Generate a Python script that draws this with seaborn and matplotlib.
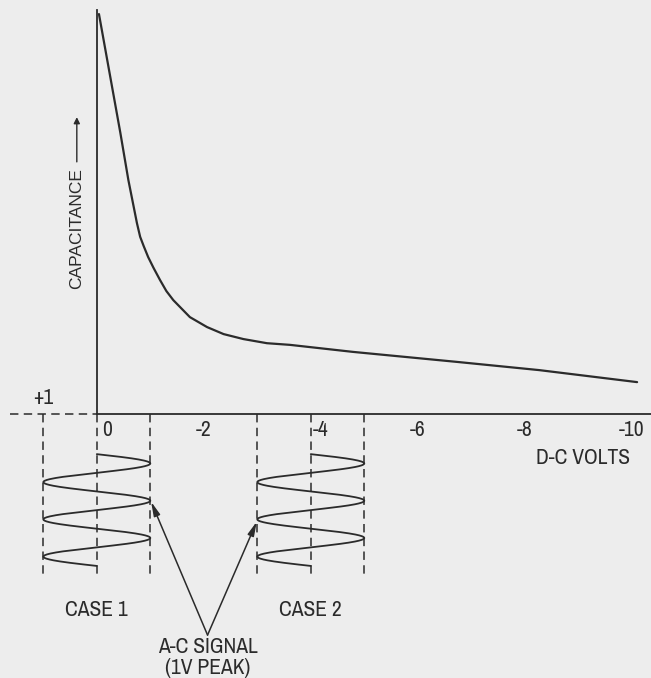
import numpy as np
import pandas as pd
import matplotlib
matplotlib.use("Agg")
import matplotlib.pyplot as plt
import matplotlib.transforms as mtrans
import seaborn as sns

# capacitance vs d-c bias (volts, relative capacitance)
dc_volts = [-0.04, -0.44, -0.59, -0.75, -0.81, -0.875, -0.96, -1.06, -1.18, -1.30,
            -1.43, -1.74, -2.06, -2.37, -2.74, -3.18, -3.61, -4.79, -6.72, -8.27, -10.10]
capacitance = [9.66, 6.79, 5.65, 4.61, 4.28, 4.06, 3.79, 3.53, 3.24, 2.97,
               2.75, 2.34, 2.10, 1.93, 1.81, 1.71, 1.67, 1.50, 1.26, 1.06, 0.77]

tick_values = [1, 0, -1, -2, -3, -4, -5, -6, -7, -8, -9, -10]
tick_labels = ["", "0", "", "-2", "", "-4", "", "-6", "", "-8", "", "-10"]

# a-c signal (1V peak) riding on two bias points
case_names = ["CASE 1", "CASE 2"]
case_bias = [0, -4]
ac_peak = 1.0
ac_cycles = 3

ink = "#2b2b2b"
paper = "#ededed"
dash = (0, (5.5, 3.5))

sns.set_theme(style="white")
plt.rcParams["font.family"] = ["Archivo Narrow", "DejaVu Sans"]
plt.rcParams["font.weight"] = "medium"

fig = plt.figure(figsize=(6.51, 6.78), dpi=100, facecolor=paper)
ax = fig.add_axes([0, 0, 1, 1], facecolor=paper)

# main curve
curve = pd.DataFrame({"volts": dc_volts, "cap": capacitance})
sns.lineplot(data=curve, x="volts", y="cap", sort=False, estimator=None,
             color=ink, lw=1.6, ax=ax)

# a-c signal waves, time running downwards
t_top, t_bot = -0.97, -3.67
s = np.linspace(0, 1, 400)
for name, b in zip(case_names, case_bias):
    wave = pd.DataFrame({"v": b - ac_peak * np.sin(2 * np.pi * ac_cycles * s),
                         "t": t_top + s * (t_bot - t_top)})
    sns.lineplot(data=wave, x="v", y="t", sort=False, estimator=None,
                 color=ink, lw=1.3, ax=ax)
    for v in (b + ac_peak, b, b - ac_peak):
        ax.plot([v, v], [0, -3.96], color=ink, lw=1.1, ls=dash)
    ax.text(b, -4.73, name, ha="center", va="center", fontsize=15.5, color=ink)

# dashed extension of the axis to +1
ax.plot([1.62, 0], [0, 0], color=ink, lw=1.1, ls=dash)
ax.text(1.0, 0.39, "+1", ha="center", va="center", fontsize=15.5, color=ink)

# axes as spines
for side in ("top", "right"):
    ax.spines[side].set_visible(False)
ax.spines["left"].set_position(("data", 0))
ax.spines["left"].set_bounds(0, 9.76)
ax.spines["bottom"].set_position(("data", 0))
ax.spines["bottom"].set_bounds(0, -10.4)
for side in ("left", "bottom"):
    ax.spines[side].set_color(ink)
    ax.spines[side].set_linewidth(1.3)

ax.set_xlim(1.81, -10.36)
ax.set_ylim(-6.377, 10.0)
ax.set_yticks([])
ax.set_xticks(tick_values)
ax.set_xticklabels(tick_labels, fontsize=15.5, color=ink)
ax.tick_params(axis="x", direction="inout", length=7, width=1, color=ink, pad=1)
ax.set_xlabel("")
ax.set_ylabel("")
shift = mtrans.ScaledTranslation(10 / 100, 0, fig.dpi_scale_trans)
for lab in ax.get_xticklabels():
    if lab.get_text() in ("0", "-4"):
        lab.set_transform(lab.get_transform() + shift)

ax.text(-9.09, -1.06, "D-C VOLTS", ha="center", va="center", fontsize=15.5, color=ink)

# y label with arrow
ax.text(0.374, 4.47, "CAPACITANCE", rotation=90, ha="center", va="center",
        fontsize=12.5, color=ink, family=["Liberation Sans", "DejaVu Sans"])
ax.annotate("", xy=(0.374, 7.17), xytext=(0.374, 6.09),
            arrowprops=dict(arrowstyle="-|>", color=ink, lw=1, mutation_scale=9,
                            shrinkA=0, shrinkB=0))

# a-c signal callout
ax.text(-2.07, -5.63, "A-C SIGNAL", ha="center", va="center", fontsize=15.5, color=ink)
ax.text(-2.07, -6.13, "(1V PEAK)", ha="center", va="center", fontsize=15.5, color=ink)
for tip in [(-1.015, -2.12), (-2.99, -2.60)]:
    ax.annotate("", xy=tip, xytext=(-2.07, -5.34),
                arrowprops=dict(arrowstyle="-|>,head_length=0.6,head_width=0.14",
                                color=ink, lw=1.1, mutation_scale=14,
                                shrinkA=0, shrinkB=0))

fig.savefig("out.png", dpi=100, facecolor=paper)
